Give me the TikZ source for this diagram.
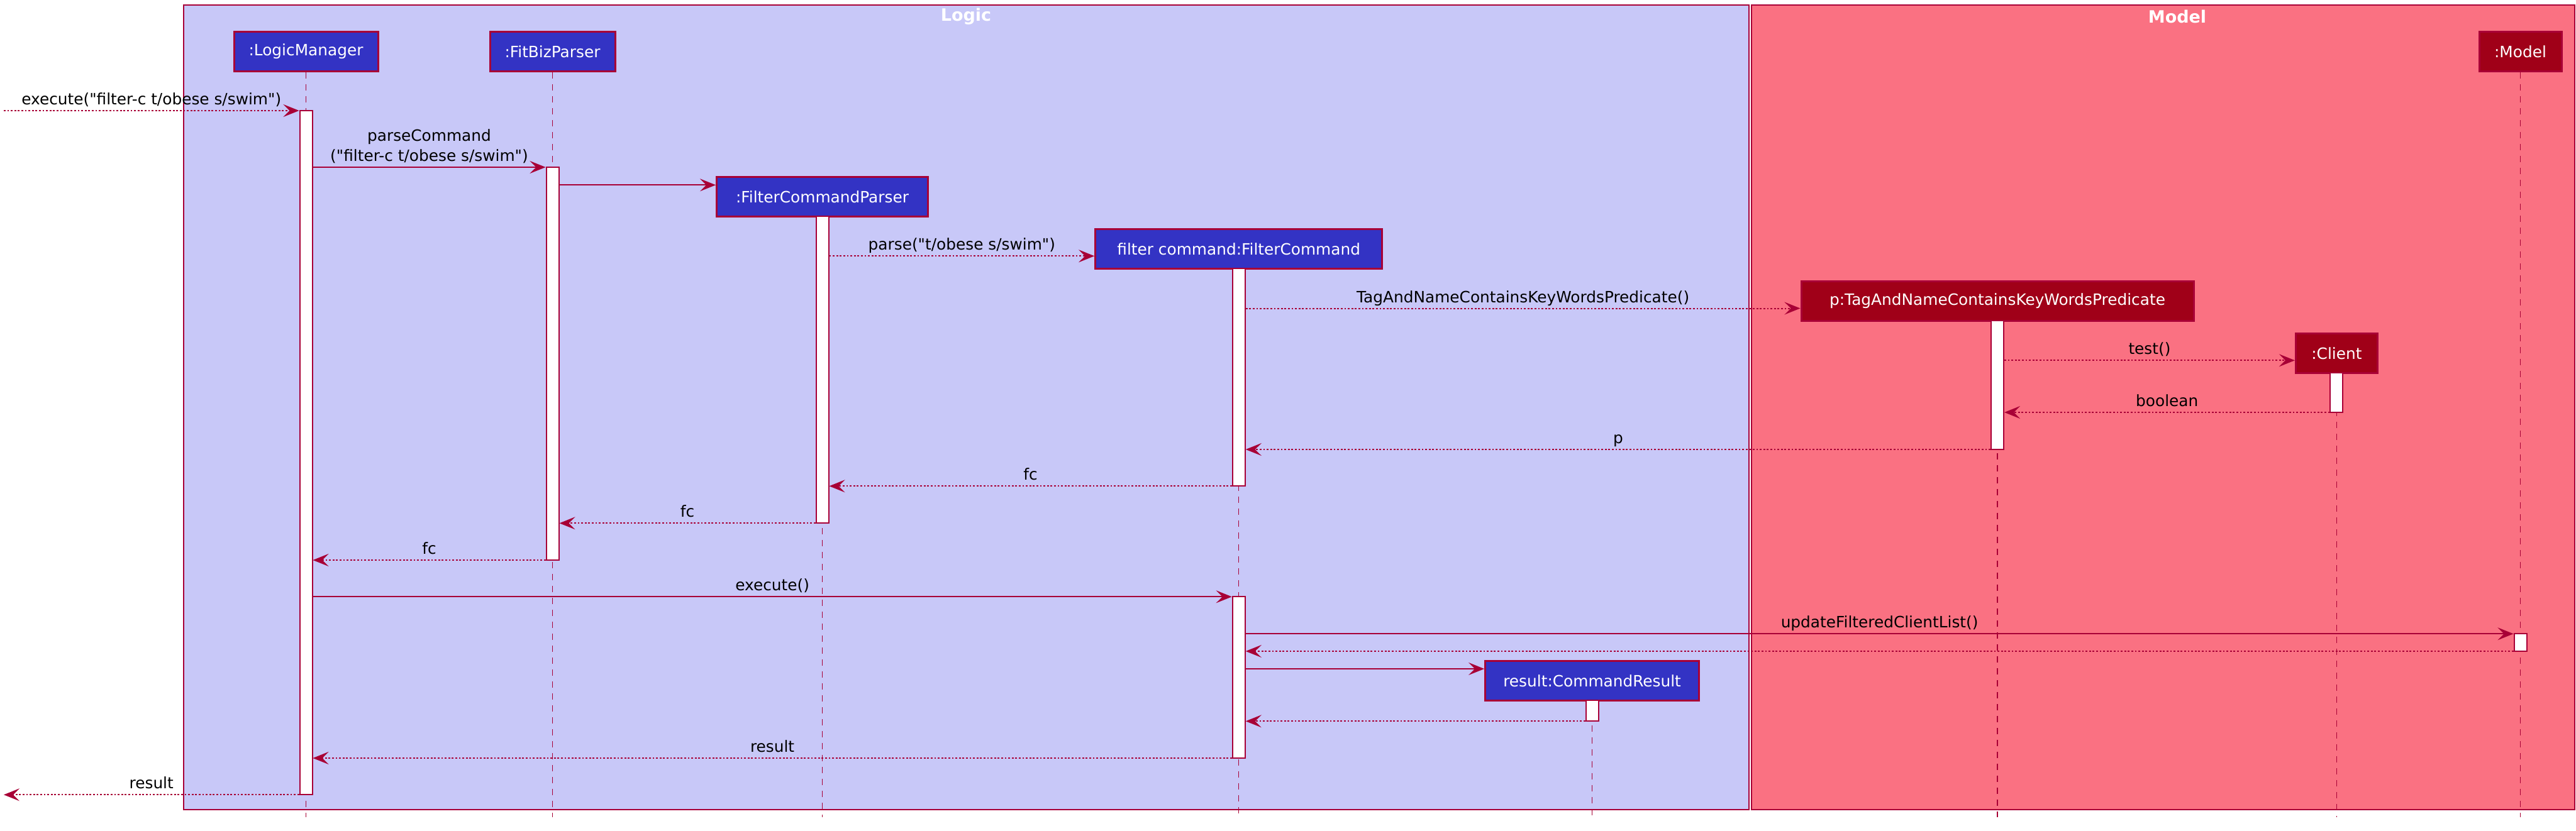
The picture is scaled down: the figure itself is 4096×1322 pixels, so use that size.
\documentclass[tikz,border=0pt]{standalone}
\usepackage{fontspec}
\setmainfont{DejaVu Sans}[Ligatures=TeXOff]
\usetikzlibrary{arrows.meta, positioning, fit}

\definecolor{umlred}{HTML}{A80036}
\definecolor{logicbg}{HTML}{C8C8F8}
\definecolor{modelbg}{HTML}{FA7182}
\definecolor{logicbox}{HTML}{3333C4}
\definecolor{modelbox}{HTML}{A00018}

% activation bar between two heights on a lifeline
\newcommand{\actbar}[4]{\node[bar, fit={(#2.south |- 0,#3) (#2.south |- 0,#4)}] (#1) {};}

\begin{document}
\begin{tikzpicture}[
    x = 0.5pt, y = -0.5pt,
    every node/.style = { font = \fontsize{12.4}{15}\selectfont },
    > = {Stealth[length=12.5pt, width=10pt, inset=5pt]}
]
    \tikzstyle{part} = [draw=umlred, line width=1.5pt, fill=logicbox, text=white, minimum height=31.5pt, inner sep=0pt];
    \tikzstyle{mpart} = [part, fill=modelbox];
    \tikzstyle{bar} = [draw=umlred, line width=1pt, fill=white, minimum width=10pt, inner sep=0pt];
    \tikzstyle{life} = [draw=umlred, line width=0.6pt, dash pattern=on 5pt off 4.5pt];
    \tikzstyle{call} = [draw=umlred, line width=1pt, ->];
    \tikzstyle{ret} = [call, dash pattern=on 1.4pt off 1.4pt];
    \tikzstyle{lbl} = [above, midway, text depth=3pt, inner sep=1.25pt];
    \tikzstyle{frame} = [draw=umlred, line width=1pt];
    \tikzstyle{title} = [text=white, font=\fontsize{13.5}{16}\selectfont\bfseries];

    \useasboundingbox (0,0) rectangle (4096,1322);

    % groups
    \draw[frame, fill=logicbg] (292,8) rectangle (2781,1288);
    \draw[frame, fill=modelbg] (2785,8) rectangle (4094,1288);
    \node[title] (logicT) at (1536,26) {Logic};
    \node[title] (modelT) at (3462,26) {Model};

    % participants
    \node[part, minimum width=114.5pt] (lm) at (486.5,82) {:LogicManager};
    \node[part, minimum width=99.5pt] (fbp) at (878.5,82) {:FitBizParser};
    \node[part, minimum width=168pt] (fcp) at (1307.5,313) {:FilterCommandParser};
    \node[part, minimum width=228pt] (fc) at (1969.7,395.8) {filter command:FilterCommand};
    \node[part, minimum width=170pt] (res) at (2531.6,1082.8) {result:CommandResult};
    \node[mpart, minimum width=312pt] (pred) at (3176,478.6) {p:TagAndNameContainsKeyWordsPredicate};
    \node[mpart, minimum width=65pt] (client) at (3715.4,562) {:Client};
    \node[mpart, minimum width=65.5pt] (model) at (4007.5,82) {:Model};

    \coordinate (bottom) at (0,1300);
    \coordinate (edge) at (6,0);
    \foreach \y [count=\i] in {176, 266, 294.3, 407.3, 490.5, 573.3, 656, 715, 773.3,
        832.3, 891, 949.3, 1008.3, 1036, 1064, 1147.3, 1206, 1264.3}
        \coordinate (r\i) at (0,\y);

    % lifelines
    \foreach \p in {lm, fbp, fcp, fc, res, pred, client, model}
        \draw[life] (\p.south) -- (\p.south |- bottom);

    % activations
    \actbar{lmA}{lm}{176}{1264.3}
    \actbar{fbpA}{fbp}{266}{891}
    \actbar{fcpA}{fcp}{344.3}{832.3}
    \actbar{fcA}{fc}{426.7}{773.3}
    \actbar{fcB}{fc}{949.3}{1206}
    \actbar{predA}{pred}{510}{715}
    \actbar{clientA}{client}{593.3}{656}
    \actbar{modelA}{model}{1008.3}{1036}
    \actbar{resA}{res}{1114}{1147.3}

    % messages
    \draw[ret] (edge |- r1) -- node[lbl] {execute("filter-c t/obese s/swim")} (lmA.west |- r1);
    \draw[call] (lmA.east |- r2) -- node[lbl, align=center, font=\fontsize{12.4}{16.25}\selectfont]
        {parseCommand\\("filter-c t/obese s/swim")} (fbpA.west |- r2);
    \draw[call] (fbpA.east |- r3) -- (fcp.west |- r3);
    \draw[ret] (fcpA.east |- r4) -- node[lbl] {parse("t/obese s/swim")} (fc.west |- r4);
    \draw[ret] (fcA.east |- r5) -- node[lbl] {TagAndNameContainsKeyWordsPredicate()} (pred.west |- r5);
    \draw[ret] (predA.east |- r6) -- node[lbl] {test()} (client.west |- r6);
    \draw[ret] (clientA.west |- r7) -- node[lbl] {boolean} (predA.east |- r7);
    \draw[ret] (predA.west |- r8) -- node[lbl] {p} (fcA.east |- r8);
    \draw[ret] (fcA.west |- r9) -- node[lbl] {fc} (fcpA.east |- r9);
    \draw[ret] (fcpA.west |- r10) -- node[lbl] {fc} (fbpA.east |- r10);
    \draw[ret] (fbpA.west |- r11) -- node[lbl] {fc} (lmA.east |- r11);
    \draw[call] (lmA.east |- r12) -- node[lbl] {execute()} (fcB.west |- r12);
    \draw[call] (fcB.east |- r13) -- node[lbl] {updateFilteredClientList()} (modelA.west |- r13);
    \draw[ret] (modelA.west |- r14) -- (fcB.east |- r14);
    \draw[call] (fcB.east |- r15) -- (res.west |- r15);
    \draw[ret] (resA.west |- r16) -- (fcB.east |- r16);
    \draw[ret] (fcB.west |- r17) -- node[lbl] {result} (lmA.east |- r17);
    \draw[ret] (lmA.west |- r18) -- node[lbl] {result} (edge |- r18);
\end{tikzpicture}
\end{document}
